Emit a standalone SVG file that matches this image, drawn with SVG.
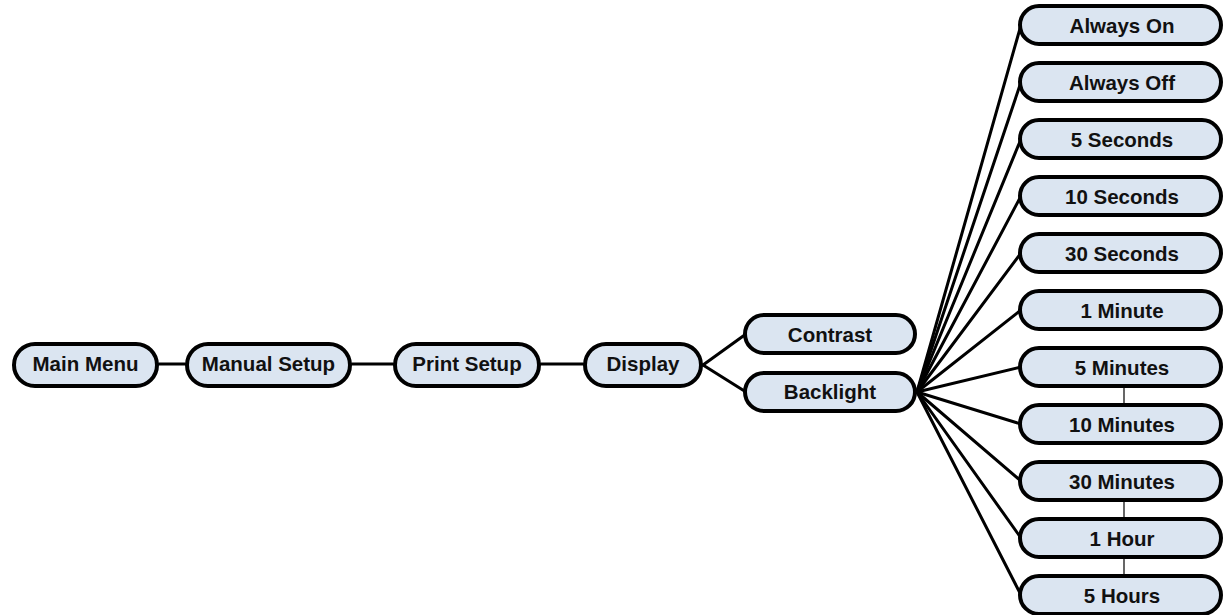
<svg xmlns="http://www.w3.org/2000/svg" width="1224" height="615" viewBox="0 0 1224 615">
<style>
.n rect{fill:#dbe5f1;stroke:#000;stroke-width:4}
.n text{font-family:"Liberation Sans",Arial,sans-serif;font-weight:bold;font-size:20.5px;fill:#111;text-anchor:middle}
.c line{stroke:#000;stroke-width:3;stroke-linecap:round}
.c line.t{stroke-width:1.2;stroke-linecap:butt}
</style>
<rect width="1224" height="615" fill="#fff"/>
<g id="connectors" class="c">
<line x1="159" y1="364" x2="185" y2="364"/>
<line x1="352" y1="364" x2="393" y2="364"/>
<line x1="541" y1="364" x2="583" y2="364"/>
<line x1="703" y1="365" x2="746" y2="334"/>
<line x1="703" y1="365" x2="746" y2="392"/>
<line x1="917" y1="392" x2="1021" y2="25"/>
<line x1="917" y1="392" x2="1021" y2="82"/>
<line x1="917" y1="392" x2="1021" y2="139"/>
<line x1="917" y1="392" x2="1021" y2="196"/>
<line x1="917" y1="392" x2="1021" y2="253"/>
<line x1="917" y1="392" x2="1021" y2="310"/>
<line x1="917" y1="392" x2="1021" y2="367"/>
<line x1="917" y1="392" x2="1021" y2="424"/>
<line x1="917" y1="392" x2="1021" y2="481"/>
<line x1="917" y1="392" x2="1021" y2="538"/>
<line x1="917" y1="392" x2="1021" y2="595"/>
<line class="t" x1="1124" y1="387" x2="1124" y2="404"/>
<line class="t" x1="1124" y1="501" x2="1124" y2="518"/>
<line class="t" x1="1124" y1="558" x2="1124" y2="575"/>
</g>
<g id="main-menu" class="n"><rect x="14" y="344" width="143" height="42" rx="21"/><text x="85.5" y="370.5">Main Menu</text></g>
<g id="manual-setup" class="n"><rect x="187" y="344" width="163" height="42" rx="21"/><text x="268.5" y="370.5">Manual Setup</text></g>
<g id="print-setup" class="n"><rect x="395" y="344" width="144" height="42" rx="21"/><text x="467" y="370.5">Print Setup</text></g>
<g id="display" class="n"><rect x="585" y="344" width="116" height="42" rx="21"/><text x="643" y="370.5">Display</text></g>
<g id="contrast" class="n"><rect x="745" y="315" width="170" height="38" rx="19"/><text x="830" y="341.5">Contrast</text></g>
<g id="backlight" class="n"><rect x="745" y="373" width="170" height="38" rx="19"/><text x="830" y="398.5">Backlight</text></g>
<g id="always-on" class="n"><rect x="1020" y="6" width="201" height="38" rx="19"/><text x="1122" y="32.5">Always On</text></g>
<g id="always-off" class="n"><rect x="1020" y="63" width="201" height="38" rx="19"/><text x="1122" y="89.5">Always Off</text></g>
<g id="5-seconds" class="n"><rect x="1020" y="120" width="201" height="38" rx="19"/><text x="1122" y="146.5">5 Seconds</text></g>
<g id="10-seconds" class="n"><rect x="1020" y="177" width="201" height="38" rx="19"/><text x="1122" y="203.5">10 Seconds</text></g>
<g id="30-seconds" class="n"><rect x="1020" y="234" width="201" height="38" rx="19"/><text x="1122" y="260.5">30 Seconds</text></g>
<g id="1-minute" class="n"><rect x="1020" y="291" width="201" height="38" rx="19"/><text x="1122" y="317.5">1 Minute</text></g>
<g id="5-minutes" class="n"><rect x="1020" y="348" width="201" height="38" rx="19"/><text x="1122" y="374.5">5 Minutes</text></g>
<g id="10-minutes" class="n"><rect x="1020" y="405" width="201" height="38" rx="19"/><text x="1122" y="431.5">10 Minutes</text></g>
<g id="30-minutes" class="n"><rect x="1020" y="462" width="201" height="38" rx="19"/><text x="1122" y="488.5">30 Minutes</text></g>
<g id="1-hour" class="n"><rect x="1020" y="519" width="201" height="38" rx="19"/><text x="1122" y="545.5">1 Hour</text></g>
<g id="5-hours" class="n"><rect x="1020" y="576" width="201" height="38" rx="19"/><text x="1122" y="602.5">5 Hours</text></g>
</svg>
